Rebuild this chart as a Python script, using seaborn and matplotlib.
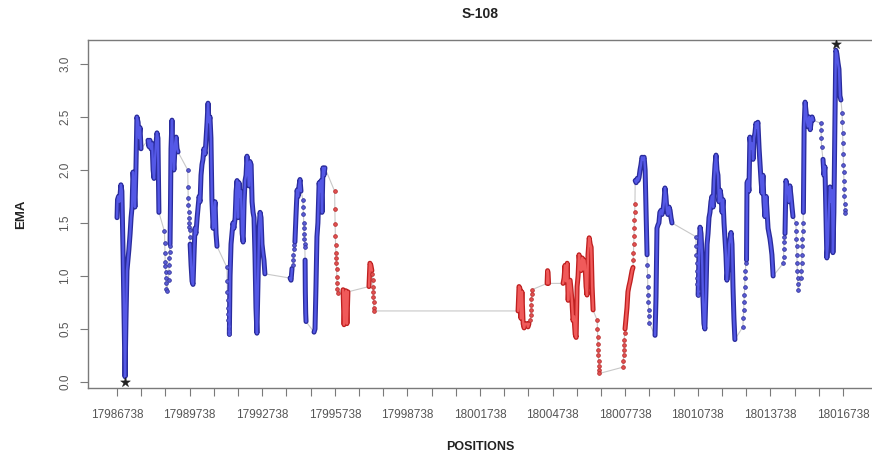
import matplotlib
matplotlib.use("Agg")
import matplotlib.pyplot as plt
import seaborn as sns

# ---------------- text ----------------
title = "S-108"
x_label = "POSITIONS"
y_label = "EMA"
x_tick_labels = ["17986738", "17989738", "17992738", "17995738", "17998738", "18001738",
                 "18004738", "18007738", "18010738", "18013738", "18016738"]
x_minor_step = 1000
y_tick_values = [0.0, 0.5, 1.0, 1.5, 2.0, 2.5, 3.0]
y_tick_labels = ["0.0", "0.5", "1.0", "1.5", "2.0", "2.5", "3.0"]

# ---------------- data: consecutive runs of the EMA series ----------------
# run_kind: "line" = densely sampled run, "dots" = sparsely sampled run
# run_group: "B" = blue (high), "R" = red (low) region
run_kind = ["line", "line", "dots", "dots", "line", "dots", "line", "dots", "line", "line",
            "dots", "line", "dots", "line", "line", "dots", "line", "line", "dots", "line",
            "line", "dots", "line", "line", "dots", "dots", "line", "dots", "line", "dots",
            "line", "dots", "line", "dots", "line", "dots", "line", "dots", "dots", "line",
            "dots", "line", "dots"]
run_group = ["B", "B", "B", "B", "B", "B", "B", "B", "B", "B",
             "B", "B", "B", "B", "B", "R", "R", "R", "R", "R",
             "R", "R", "R", "R", "R", "R", "R", "R", "B", "B",
             "B", "B", "B", "B", "B", "B", "B", "B", "B", "B",
             "B", "B", "B"]

position = [
    [17986740, 17986760, 17986800, 17986840, 17986900, 17986940, 17986990, 17987070, 17987110, 17987150,
     17987190, 17987230, 17987280, 17987320, 17987360, 17987400, 17987440, 17987480, 17987520, 17987560,
     17987610, 17987650, 17987690, 17987730],
    [17988020, 17988060, 17988100, 17988140, 17988190, 17988230, 17988270, 17988310, 17988350, 17988390,
     17988430, 17988470],
    [17988700, 17988710, 17988720, 17988730, 17988740, 17988750, 17988760, 17988770, 17988780, 17988790],
    [17988870, 17988880, 17988890, 17988900, 17988910, 17988920],
    [17988930, 17988950, 17988970, 17989010, 17989050, 17989090, 17989140, 17989180, 17989220, 17989260],
    [17989660, 17989670, 17989680, 17989690, 17989700, 17989710, 17989720, 17989730, 17989740, 17989750],
    [17989760, 17989800, 17989840, 17989880, 17989920, 17989960, 17990000, 17990050, 17990090, 17990130,
     17990170, 17990210, 17990250, 17990290, 17990330, 17990380, 17990420, 17990460, 17990500, 17990540,
     17990580, 17990620, 17990660, 17990710, 17990750, 17990790, 17990830, 17990870],
    [17991280, 17991290, 17991300, 17991310, 17991320, 17991330, 17991340, 17991350, 17991360, 17991370],
    [17991380, 17991410, 17991450, 17991490, 17991530, 17991570, 17991620, 17991660, 17991700, 17991740,
     17991780, 17991820, 17991860, 17991910, 17991950, 17991990, 17992030, 17992070, 17992110, 17992150,
     17992190, 17992230, 17992280, 17992320, 17992360, 17992400, 17992440, 17992480, 17992520, 17992560,
     17992610, 17992650, 17992690, 17992730, 17992770, 17992810, 17992850],
    [17993890, 17993930, 17993970],
    [17994010, 17994020, 17994030, 17994040, 17994050],
    [17994090, 17994130, 17994180, 17994220, 17994260, 17994300, 17994340],
    [17994420, 17994430, 17994440, 17994450, 17994460, 17994470, 17994480, 17994490, 17994500],
    [17994510, 17994520, 17994535, 17994550],
    [17994880, 17994920, 17994960, 17995000, 17995040, 17995090, 17995130, 17995170, 17995210, 17995250,
     17995290, 17995330],
    [17995730, 17995740, 17995750, 17995760, 17995770, 17995780, 17995790, 17995800, 17995810, 17995820,
     17995830, 17995840, 17995850],
    [17996080, 17996120, 17996160, 17996200, 17996240, 17996280],
    [17997150, 17997190, 17997230, 17997270],
    [17997290, 17997300, 17997310, 17997320, 17997330, 17997340, 17997350, 17997360],
    [18003310, 18003350, 18003390, 18003430, 18003470, 18003520, 18003560, 18003600],
    [18003680, 18003720, 18003760],
    [18003820, 18003830, 18003840, 18003850, 18003860, 18003870, 18003880],
    [18004510, 18004530, 18004550, 18004570],
    [18005170, 18005210, 18005250, 18005290, 18005340, 18005380, 18005420, 18005460, 18005500, 18005540,
     18005580, 18005620, 18005670, 18005710, 18005750, 18005790, 18005830, 18005870, 18005910, 18005960,
     18006000, 18006040, 18006080, 18006120, 18006160, 18006200, 18006250, 18006290, 18006330, 18006370,
     18006410],
    [18006580, 18006590, 18006600, 18006610, 18006620, 18006630, 18006640, 18006650, 18006660, 18006670],
    [18007650, 18007660, 18007670, 18007680, 18007690, 18007700, 18007710],
    [18007730, 18007770, 18007810, 18007850, 18007890, 18007940, 18007980, 18008020, 18008060],
    [18008070, 18008080, 18008090, 18008100, 18008110, 18008120, 18008130, 18008140],
    [18008150, 18008190, 18008230, 18008270, 18008310, 18008350, 18008390, 18008430, 18008470, 18008520,
     18008560, 18008600, 18008640],
    [18008650, 18008660, 18008670, 18008680, 18008690, 18008700, 18008710, 18008720],
    [18008970, 18009010, 18009050, 18009090, 18009130, 18009170, 18009220, 18009260, 18009300, 18009340,
     18009380, 18009420, 18009460, 18009500, 18009550, 18009590, 18009630, 18009670],
    [18010660, 18010670, 18010680, 18010690, 18010700, 18010710, 18010720, 18010730, 18010740],
    [18010750, 18010790, 18010830, 18010870, 18010910, 18010950, 18010990, 18011030, 18011080, 18011120,
     18011160, 18011200, 18011240, 18011280, 18011320, 18011370, 18011410, 18011450, 18011490, 18011530,
     18011570, 18011610, 18011660, 18011700, 18011740, 18011780, 18011820, 18011860, 18011900, 18011940,
     18011990, 18012030, 18012070, 18012110, 18012150, 18012190, 18012230, 18012270],
    [18012600, 18012615, 18012630, 18012645, 18012660, 18012675, 18012690, 18012705, 18012720],
    [18012750, 18012770, 18012810, 18012850, 18012890, 18012940, 18012980, 18013020, 18013060, 18013100,
     18013140, 18013180, 18013220, 18013270, 18013310, 18013350, 18013390, 18013430, 18013470, 18013510,
     18013560, 18013600, 18013640, 18013680, 18013720, 18013760, 18013800, 18013850],
    [18014270, 18014280, 18014290, 18014300, 18014310],
    [18014340, 18014380, 18014420, 18014460, 18014500, 18014540, 18014590, 18014630, 18014670],
    [18014790, 18014800, 18014810, 18014820, 18014830, 18014840, 18014850, 18014860, 18014870, 18014880],
    [18015010, 18015020, 18015030, 18015040, 18015050, 18015060, 18015070, 18015080],
    [18015100, 18015130, 18015170, 18015210, 18015250, 18015290, 18015340, 18015380, 18015420, 18015460,
     18015500],
    [18015820, 18015830, 18015840, 18015850],
    [18015910, 18015950, 18015990, 18016030, 18016070, 18016110, 18016150, 18016200, 18016240, 18016280,
     18016320, 18016360, 18016400, 18016440, 18016480, 18016530, 18016570, 18016610, 18016650],
    [18016700, 18016710, 18016720, 18016730, 18016740, 18016750, 18016760, 18016770, 18016780, 18016790,
     18016800, 18016810, 18016820],
]

ema = [
    [1.55, 1.72, 1.75, 1.70, 1.86, 1.80, 1.20, 0.05, 0.60, 1.05, 1.15, 1.25, 1.40, 1.55, 1.65, 1.98, 1.85,
     1.65, 2.00, 2.50, 2.45, 2.30, 2.40, 2.20],
    [2.28, 2.22, 2.28, 2.20, 2.25, 2.00, 1.92, 2.10, 2.25, 2.35, 2.30, 1.60],
    [1.42, 1.31, 1.22, 1.13, 1.09, 1.04, 0.98, 0.93, 0.88, 0.86],
    [0.96, 1.04, 1.10, 1.17, 1.23, 1.28],
    [1.30, 1.70, 2.20, 2.47, 2.12, 2.00, 2.25, 2.31, 2.20, 2.17],
    [2.00, 1.84, 1.74, 1.67, 1.60, 1.55, 1.50, 1.46, 1.43, 1.37],
    [1.30, 1.10, 0.95, 0.92, 1.20, 1.45, 1.40, 1.55, 1.65, 1.75, 1.70, 1.95, 2.05, 2.10, 2.20, 2.15, 2.30,
     2.45, 2.63, 2.45, 2.50, 2.30, 1.72, 1.45, 1.60, 1.70, 1.40, 1.28],
    [1.08, 0.95, 0.85, 0.77, 0.70, 0.64, 0.58, 0.53, 0.48, 0.45],
    [0.45, 1.00, 1.30, 1.40, 1.50, 1.45, 1.55, 1.80, 1.90, 1.55, 1.88, 1.75, 1.80, 1.40, 1.32, 1.70, 1.90,
     1.95, 2.13, 2.00, 1.85, 2.08, 2.05, 1.70, 1.60, 1.55, 1.20, 0.70, 0.46, 0.90, 1.45, 1.60, 1.55, 1.30,
     1.22, 1.15, 1.02],
    [0.98, 0.96, 1.07],
    [1.10, 1.15, 1.20, 1.25, 1.29],
    [1.32, 1.55, 1.81, 1.75, 1.85, 1.91, 1.80],
    [1.72, 1.65, 1.58, 1.50, 1.45, 1.40, 1.35, 1.30, 1.27],
    [1.15, 0.85, 0.65, 0.57],
    [0.47, 0.50, 0.90, 1.37, 1.50, 1.88, 1.80, 1.90, 1.60, 2.02, 1.95, 2.02],
    [1.80, 1.63, 1.49, 1.38, 1.29, 1.22, 1.17, 1.12, 1.07, 0.99, 0.93, 0.88, 0.84],
    [0.87, 0.54, 0.80, 0.86, 0.55, 0.85],
    [0.90, 1.12, 1.10, 1.05],
    [1.02, 0.96, 0.90, 0.85, 0.80, 0.75, 0.70, 0.67],
    [0.67, 0.90, 0.88, 0.60, 0.85, 0.55, 0.51, 0.55],
    [0.55, 0.52, 0.55],
    [0.58, 0.63, 0.68, 0.73, 0.78, 0.83, 0.87],
    [0.93, 1.05, 1.03, 0.93],
    [0.93, 0.98, 1.10, 0.95, 1.12, 0.77, 0.95, 0.96, 0.87, 0.75, 0.58, 0.62, 0.45, 0.42, 0.90, 1.00, 1.20,
     1.10, 1.05, 1.17, 1.06, 1.15, 1.10, 0.90, 0.82, 1.20, 1.36, 1.30, 1.27, 0.90, 0.68],
    [0.58, 0.50, 0.42, 0.36, 0.30, 0.25, 0.20, 0.15, 0.11, 0.08],
    [0.14, 0.20, 0.25, 0.30, 0.35, 0.40, 0.46],
    [0.50, 0.60, 0.70, 0.85, 0.90, 0.95, 1.00, 1.05, 1.08],
    [1.15, 1.22, 1.30, 1.38, 1.45, 1.53, 1.60, 1.68],
    [1.90, 1.88, 1.92, 1.90, 1.93, 2.00, 2.05, 2.12, 2.10, 2.12, 2.00, 1.60, 1.20],
    [1.10, 1.00, 0.90, 0.82, 0.75, 0.68, 0.62, 0.56],
    [0.44, 0.80, 1.45, 1.48, 1.50, 1.60, 1.62, 1.58, 1.62, 1.70, 1.83, 1.75, 1.62, 1.58, 1.65, 1.62, 1.55,
     1.50],
    [1.37, 1.28, 1.20, 1.12, 1.05, 0.98, 0.92, 0.86, 0.82],
    [0.82, 1.20, 1.46, 1.40, 1.20, 0.80, 0.55, 0.50, 0.90, 1.30, 1.40, 1.55, 1.60, 1.70, 1.75, 1.65, 1.90,
     2.05, 2.14, 2.00, 1.95, 1.70, 1.81, 1.75, 1.60, 1.72, 1.50, 1.35, 1.20, 0.96, 1.10, 1.30, 1.35, 1.41,
     1.30, 0.90, 0.60, 0.40],
    [0.52, 0.60, 0.68, 0.75, 0.82, 0.90, 0.98, 1.05, 1.12],
    [1.15, 1.88, 1.90, 1.80, 2.31, 2.20, 2.25, 2.10, 2.30, 2.35, 2.44, 2.40, 2.45, 2.20, 2.05, 1.90, 1.78,
     1.95, 1.70, 1.56, 1.75, 1.60, 1.45, 1.40, 1.35, 1.28, 1.20, 1.00],
    [1.12, 1.18, 1.25, 1.32, 1.37],
    [1.40, 1.90, 1.85, 1.80, 1.70, 1.85, 1.75, 1.65, 1.56],
    [1.50, 1.42, 1.35, 1.28, 1.20, 1.12, 1.05, 0.98, 0.92, 0.87],
    [0.98, 1.05, 1.12, 1.20, 1.28, 1.35, 1.42, 1.50],
    [1.60, 2.40, 2.64, 2.55, 2.45, 2.41, 2.50, 2.38, 2.45, 2.50, 2.47],
    [2.44, 2.38, 2.30, 2.22],
    [2.10, 1.95, 2.03, 1.60, 1.17, 1.30, 1.60, 1.84, 1.70, 1.81, 1.22, 1.60, 2.40, 3.13, 3.10, 3.01, 2.95,
     2.70, 2.66],
    [2.54, 2.45, 2.35, 2.25, 2.15, 2.05, 1.98, 1.90, 1.82, 1.75, 1.68, 1.62, 1.59],
]

# ---------------- style ----------------
sns.set_theme(style="white")
plt.rcParams["font.family"] = ["Liberation Sans", "DejaVu Sans"]

line_outer = {"B": "#2a2c9c", "R": "#bf2020"}
line_inner = {"B": "#5458e6", "R": "#f05a5a"}
dot_fill = {"B": "#5a5cd6", "R": "#e45050"}
dot_edge = {"B": "#34369e", "R": "#b83030"}
link_color = "#c8c8c8"
axis_color = "#7a7a7a"
tick_text = "#555555"

W, H = 872, 457
fig = plt.figure(figsize=(W / 100, H / 100), dpi=100)
ax = fig.add_axes([88 / W, 69 / H, 800 / W, 348 / H])

if len(position) != len(ema) or len(position) != len(run_kind) or len(run_kind) != len(run_group):
    raise ValueError("run lists differ in length")
for i, (xs, ys) in enumerate(zip(position, ema)):
    if len(xs) != len(ys):
        raise ValueError(f"run {i + 1}: {len(xs)} positions vs {len(ys)} values")

all_x = [v for run in position for v in run]
all_y = [v for run in ema for v in run]

# thin grey line joining every point in order
sns.lineplot(x=all_x, y=all_y, sort=False, estimator=None, color=link_color,
             linewidth=0.8, ax=ax, zorder=1)

for xs, ys, kind, grp in zip(position, ema, run_kind, run_group):
    if kind == "line":
        sns.lineplot(x=xs, y=ys, sort=False, estimator=None, color=line_outer[grp],
                     linewidth=3.6, ax=ax, zorder=2,
                     solid_capstyle="round", solid_joinstyle="round")
        sns.lineplot(x=xs, y=ys, sort=False, estimator=None, color=line_inner[grp],
                     linewidth=1.7, ax=ax, zorder=3,
                     solid_capstyle="round", solid_joinstyle="round")
    else:
        sns.scatterplot(x=xs, y=ys, s=7, color=dot_fill[grp], edgecolor=dot_edge[grp],
                        linewidth=0.6, ax=ax, zorder=3)

# stars marking the minimum and maximum
i_min = all_y.index(min(all_y))
i_max = all_y.index(max(all_y))
sns.scatterplot(x=[all_x[i_min], all_x[i_max]], y=[all_y[i_min] - 0.055, all_y[i_max] + 0.055],
                marker="*", s=55, color="#222222", edgecolor="#222222", linewidth=0.3,
                ax=ax, zorder=5)

# ---------------- axes ----------------
ax.set_xlim(17985540, 18018596)
ax.set_ylim(-0.057, 3.226)

major = [int(t) for t in x_tick_labels]
ticks = list(range(major[0], major[-1] + 1, x_minor_step))
ax.set_xticks(ticks)
ax.set_xticklabels([str(t) if str(t) in x_tick_labels else "" for t in ticks])
ax.set_yticks(y_tick_values)
ax.set_yticklabels(y_tick_labels, rotation=90, va="center")

ax.tick_params(axis="both", which="major", direction="out", length=6, width=0.8,
               color=axis_color, labelcolor=tick_text, labelsize=8.5,
               bottom=True, left=True, top=False, right=False)
ax.tick_params(axis="x", pad=9)
ax.tick_params(axis="y", pad=6)

for side in ["left", "bottom", "top"]:
    ax.spines[side].set_color(axis_color)
    ax.spines[side].set_linewidth(1.0)
ax.spines["right"].set_visible(False)
ax.grid(False)

ax.set_xlabel(x_label, fontsize=9, fontweight="bold", color="#222222")
ax.xaxis.set_label_coords((480 - 88) / 800, (388 - 441) / 348)
ax.set_ylabel(y_label, fontsize=9.5, fontweight="bold", color="#222222")
ax.yaxis.set_label_coords((27 - 88) / 800, 0.5)
fig.text(480 / W, 1 - 14 / H, title, ha="center", va="center",
         fontsize=10, fontweight="bold", color="#222222")

fig.savefig("out.png", dpi=100)
